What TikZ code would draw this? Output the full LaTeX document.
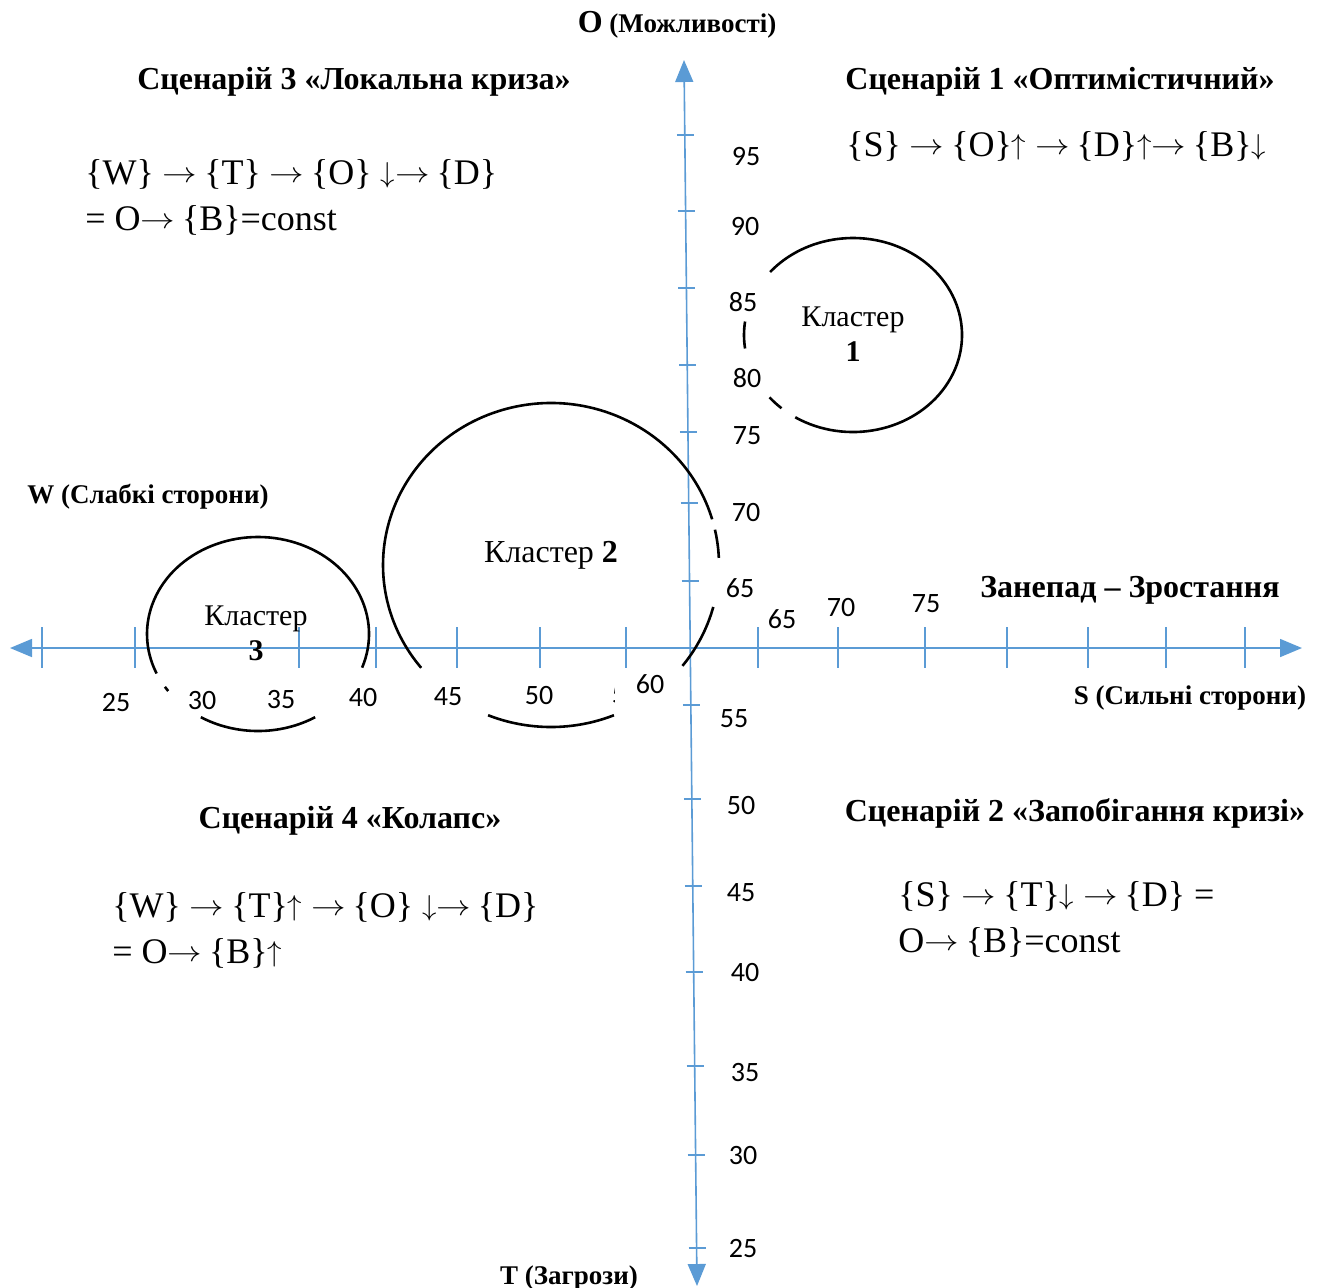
\documentclass[tikz,border=0pt]{standalone}
\usepackage{fontspec}
\setmainfont{Liberation Serif}
\newfontfamily\numfont{Carlito}
\usetikzlibrary{arrows.meta}

\definecolor{axisblue}{HTML}{5B9BD5}
% arrows of the formulas
\newcommand{\arR}{\raisebox{1pt}{\fontsize{14.4}{15}\selectfont\scalebox{1.2}[1]{$\rightarrow$}}\kern3.4pt}
\newcommand{\arU}{\raisebox{1pt}{\fontsize{14.4}{15}\selectfont$\uparrow$}}
\newcommand{\arD}{\raisebox{1pt}{\fontsize{14.4}{15}\selectfont$\downarrow$}}

\begin{document}
\begin{tikzpicture}[
    x=0.5pt, y=-0.5pt,
    axis/.style={axisblue, line width=0.8pt, {Triangle[length=11pt,width=9pt]}-{Triangle[length=11pt,width=9pt]}},
    tick/.style={axisblue, line width=0.8pt},
    cluster/.style={black, line width=1.3pt},
    num/.style={font=\numfont\fontsize{14}{16}\selectfont, inner sep=0pt},
    scen/.style={font=\bfseries\fontsize{16}{19}\selectfont, inner sep=0pt, anchor=base},
    pole/.style={font=\bfseries\fontsize{13.5}{16}\selectfont, inner sep=0pt, anchor=base},
    formula/.style={font=\fontsize{18}{23}\selectfont, inner sep=0pt, align=left, anchor=north west},
    clabel/.style={font=\fontsize{15}{17.5}\selectfont, inner sep=0pt, align=center},
]
    \useasboundingbox (0,0) rectangle (1322,1287);

    % axes
    \coordinate (wend) at (10,648);
    \coordinate (send) at (1302,648);
    \coordinate (otop) at (684,60);
    \coordinate (tbot) at (697,1286);
    \draw[axis] (wend) -- (send);
    \draw[axis] (otop) -- (tbot);

    \foreach \tx in {42,135,299,376,457,540,626,758,838,925,1007,1088,1166,1245}
        \draw[tick] (\tx,627) -- (\tx,668);
    \foreach \ty in {135,211,288,365,432,503,581,705,799,886,972,1066,1155,1248}
        \draw[tick] ({684+13*(\ty-60)/1225-8},\ty) -- ++(17,0);

    % scale values
    \node[num] (v95) at (746,156) {95};
    \node[num] (v90) at (745,227) {90};
    \node[num] (v85) at (743,302) {85};
    \node[num] (v80) at (747,378) {80};
    \node[num] (v75) at (747,436) {75};
    \node[num] (v70) at (746,512) {70};
    \node[num] (v65) at (740,588) {65};
    \node[num] (v55) at (734,719) {55};
    \node[num] (v50) at (741,805) {50};
    \node[num] (v45) at (741,893) {45};
    \node[num] (v40) at (745,972) {40};
    \node[num] (v35) at (745,1072) {35};
    \node[num] (v30) at (743,1155) {30};
    \node[num] (v25) at (743,1248) {25};

    \node[num] (h25) at (116,702) {25};
    \node[num] (h30) at (202,700) {30};
    \node[num] (h35) at (281,699) {35};
    \node[num] (h40) at (363,697) {40};
    \node[num] (h45) at (448,697) {45};
    \node[num] (h50) at (539,695) {50};
    \begin{scope}
        \clip (600,680) rectangle (614.5,712);
        \node[num] (h55) at (619,695) {5};
    \end{scope}
    \node[num] (h60) at (650,684) {60};
    \node[num] (h65) at (782,619) {65};
    \node[num] (h70) at (841,607) {70};
    \node[num] (h75) at (926,604) {75};

    % clusters
    \coordinate (c1) at (853,335);
    \draw[cluster] (c1) ++(122:109 and 97) arc[start angle=122, end angle=-139.5, x radius=109, y radius=97];
    \draw[cluster] (c1) ++(-172:109 and 97) arc[start angle=-172, end angle=-188, x radius=109, y radius=97];
    \draw[cluster] (c1) ++(-220:109 and 97) arc[start angle=-220, end angle=-229, x radius=109, y radius=97];

    \coordinate (c2) at (551,565);
    \draw[cluster] (c2) ++(-16.4:168 and 162) arc[start angle=-16.4, end angle=-219.4, x radius=168, y radius=162];
    \draw[cluster] (c2) ++(-2.5:168 and 162) arc[start angle=-2.5, end angle=-12.6, x radius=168, y radius=162];
    \draw[cluster] (c2) ++(38.5:168 and 162) arc[start angle=38.5, end angle=15, x radius=168, y radius=162];
    \draw[cluster] (c2) ++(112:168 and 162) arc[start angle=112, end angle=68, x radius=168, y radius=162];

    \coordinate (c3) at (258,634);
    \draw[cluster] (c3) ++(20.3:111 and 97) arc[start angle=20.3, end angle=-204, x radius=111, y radius=97];
    \draw[cluster] (c3) ++(-213:111 and 97) arc[start angle=-213, end angle=-216, x radius=111, y radius=97];
    \draw[cluster] (c3) ++(121:111 and 97) arc[start angle=121, end angle=59, x radius=111, y radius=97];

    \node[clabel] (k1) at (853,334) {Кластер\\\textbf{1}};
    \node[clabel, font=\fontsize{16}{19}\selectfont] (k2) at (551,555) {Кластер \textbf{2}};
    \node[clabel] (k3) at (256,633) {Кластер\\\textbf{3}};

    % axis titles
    \node[pole] (po) at (677,32) {{\fontsize{16}{16}\selectfont O} (Можливості)};
    \node[pole] (pt) at (569,1284) {T (Загрози)};
    \node[pole] (pw) at (148,503) {W (Слабкі сторони)};
    \node[pole] (ps) at (1190,704) {S (Сильні сторони)};
    \node[scen] (trend) at (1130,597) {Занепад – Зростання};

    % scenarios
    \node[scen] (sc3) at (354,89) {Сценарій 3 «Локальна криза»};
    \node[scen] (sc1) at (1060,89) {Сценарій 1 «Оптимістичний»};
    \node[scen] (sc4) at (350,828) {Сценарій 4 «Колапс»};
    \node[scen] (sc2) at (1075,821) {Сценарій 2 «Запобігання кризі»};

    \node[formula] (f3) at (85,159) {\{W\} \arR\{T\} \arR\{O\} \arD\arR\{D\}\\= O\arR\{B\}=const};
    \node[formula, anchor=base west] (f1) at (846,156) {\{S\} \arR\{O\}\arU{} \arR\{D\}\arU\arR\{B\}\arD};
    \node[formula] (f4) at (112,892) {\{W\} \arR\{T\}\arU{} \arR\{O\} \arD\arR\{D\}\\= O\arR\{B\}\arU};
    \node[formula] (f2) at (898,881) {\{S\} \arR\{T\}\arD{} \arR\{D\} =\\O\arR\{B\}=const};
\end{tikzpicture}
\end{document}
